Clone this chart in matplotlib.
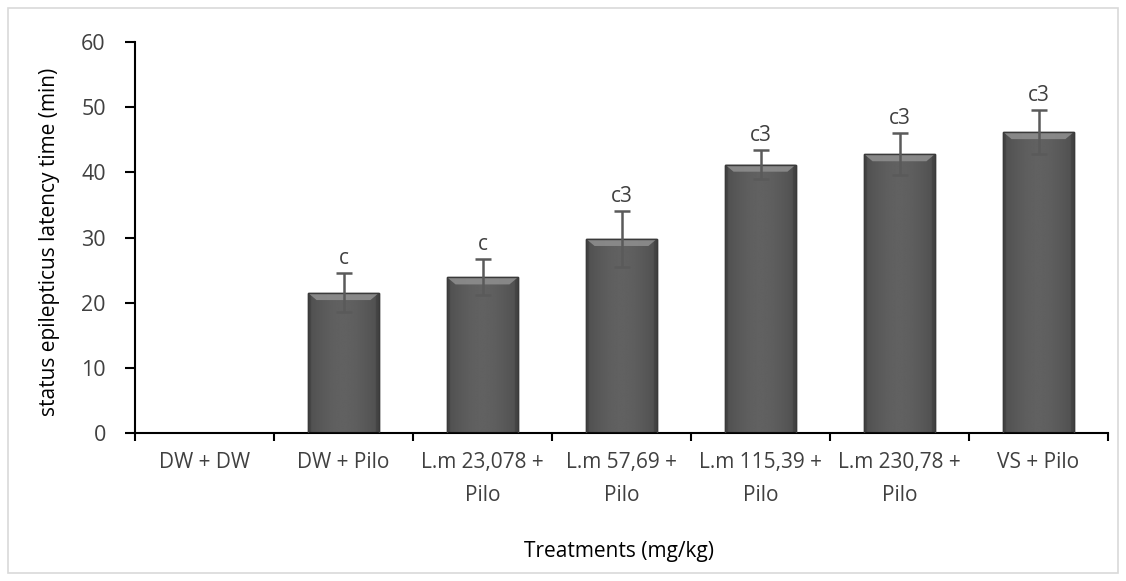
import matplotlib
matplotlib.use("Agg")
import matplotlib.pyplot as plt
import numpy as np
from matplotlib.patches import Rectangle, Polygon

categories = ["DW + DW", "DW + Pilo", "L.m 23,078 +\nPilo", "L.m 57,69 +\nPilo",
              "L.m 115,39 +\nPilo", "L.m 230,78 +\nPilo", "VS + Pilo"]
values = [0, 21.5, 23.9, 29.8, 41.2, 42.8, 46.2]
errors = [0, 3.0, 2.8, 4.3, 2.2, 3.2, 3.4]
sig_labels = ["", "c", "c", "c3", "c3", "c3", "c3"]
yticks = [0, 10, 20, 30, 40, 50, 60]

plt.rcParams['font.family'] = ['Open Sans', 'DejaVu Sans']

fig = plt.figure(figsize=(11.26, 5.81), dpi=100)
fig.patches.append(Rectangle((8/1126, 8/581), 1110/1126, 565/581, transform=fig.transFigure,
                             fill=False, edgecolor='#d9d9d9', linewidth=1.2))
ax = fig.add_axes([135/1126, 1 - 433/581, (1108 - 135)/1126, (433 - 42)/581])

x = np.arange(len(categories))
width = 0.51
bars = ax.bar(x, values, width=width, color='#555555', edgecolor='#3c3c3c', linewidth=1.0, zorder=2)

# horizontal gradient shading clipped to each bar
grad = np.linspace(0, 1, 256)
shade = 0.31 + 0.07 * np.sin(np.pi * grad) - 0.05 * (np.abs(grad - 0.5) > 0.46)
img = np.tile(shade, (2, 1))
for b, v in zip(bars, values):
    if v <= 0:
        continue
    x0, w = b.get_x(), b.get_width()
    im = ax.imshow(img, extent=[x0, x0 + w, 0, v], cmap='gray', vmin=0, vmax=1,
                   aspect='auto', zorder=2.5, interpolation='bilinear')
    im.set_clip_path(b)
    # lighter top bevel
    bev_h = 1.1
    inset = w * 0.12
    poly = Polygon([[x0, v], [x0 + w, v], [x0 + w - inset, v - bev_h], [x0 + inset, v - bev_h]],
                   closed=True, facecolor='#909090', edgecolor='none', zorder=2.6, alpha=0.85)
    ax.add_patch(poly)
    ax.add_patch(Rectangle((x0, 0), w, v, fill=False, edgecolor='#3a3a3a', linewidth=1.0, zorder=2.7))

ax.errorbar(x[1:], values[1:], yerr=errors[1:], fmt='none', ecolor='#5a5a5a',
            elinewidth=1.8, capsize=6, capthick=1.8, zorder=3)

for xi, v, e, lab in zip(x, values, errors, sig_labels):
    if lab:
        ax.annotate(lab, (xi, v + e), xytext=(0, 3), textcoords='offset points',
                    ha='center', va='bottom', fontsize=15, color='#404040')

ax.set_xlim(-0.5, len(categories) - 0.5)
ax.set_ylim(0, 60)
ax.set_yticks(yticks)
ax.set_yticklabels([str(t) for t in yticks], fontsize=15.5, color='#404040')
ax.set_xticks(x)
ax.set_xticklabels(categories, fontsize=15, color='#404040', linespacing=1.72)
ax.set_xticks(np.arange(-0.5, len(categories)), minor=True)
ax.tick_params(axis='x', which='major', length=0, pad=14)
ax.tick_params(axis='x', which='minor', length=6, width=1.5, direction='out', color='black')
ax.tick_params(axis='y', which='major', length=7, width=1.5, direction='out', color='black', pad=14)

for s in ['top', 'right']:
    ax.spines[s].set_visible(False)
for s in ['left', 'bottom']:
    ax.spines[s].set_linewidth(1.5)
    ax.spines[s].set_color('black')

ax.set_ylabel("status epilepticus latency time (min)", fontsize=15, color='black', va='center')
ax.yaxis.set_label_coords(-0.0874, 0.488)
ax.set_xlabel("Treatments (mg/kg)", fontsize=15, color='black', va='center')
ax.xaxis.set_label_coords(0.497, -0.302)

fig.savefig("out.png", dpi=100)
